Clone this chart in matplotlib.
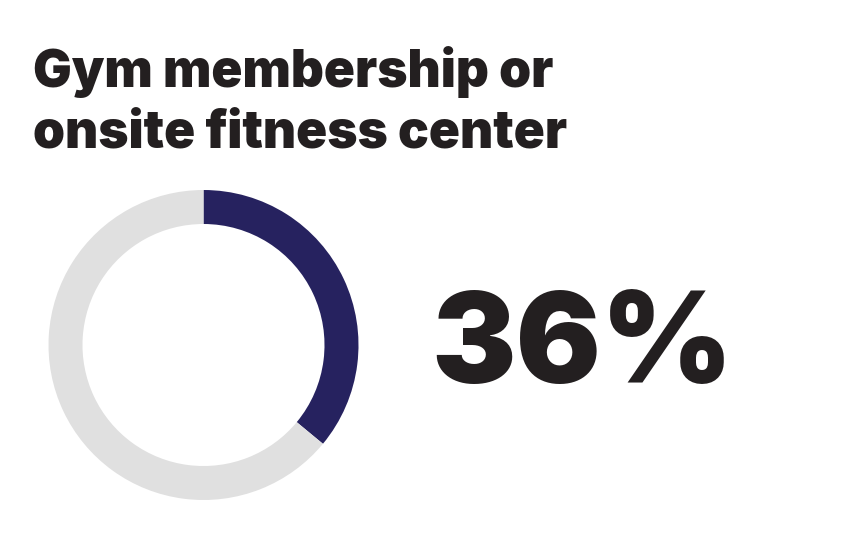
import matplotlib
matplotlib.use("Agg")
import matplotlib.pyplot as plt

# chart data
title_lines = ["Gym membership or", "onsite fitness center"]
share = 36
labels = ["Yes", "No"]
values = [share, 100 - share]
colors = ["#26225f", "#e0e0e0"]

W, H = 844, 550
fig = plt.figure(figsize=(W / 100, H / 100), dpi=100)
fig.patch.set_facecolor("white")

# donut: centre ~(203.5, 345) px, outer radius 155 px, ring 34 px
ax = fig.add_axes([48.5 / W, 50 / H, 310 / W, 310 / H])
ax.pie(values, colors=colors, startangle=90, counterclock=False,
       radius=1.0, wedgeprops=dict(width=34 / 155, linewidth=0))
ax.set_xlim(-1, 1)
ax.set_ylim(-1, 1)
ax.set_aspect("equal")
ax.axis("off")

font = ["Inter", "DejaVu Sans"]

# title, two lines
for i, line in enumerate(title_lines):
    fig.text(33 / W, 1 - (87 + 60 * i) / H, line, ha="left", va="baseline",
             fontsize=37, fontweight="black", family=font, color="#231f20")

# big percentage
fig.text(431 / W, 1 - 383 / H, f"{share}%", ha="left", va="baseline",
         fontsize=91, fontweight="black", family=font, color="#231f20")

fig.savefig("out.png", dpi=100, facecolor="white")
